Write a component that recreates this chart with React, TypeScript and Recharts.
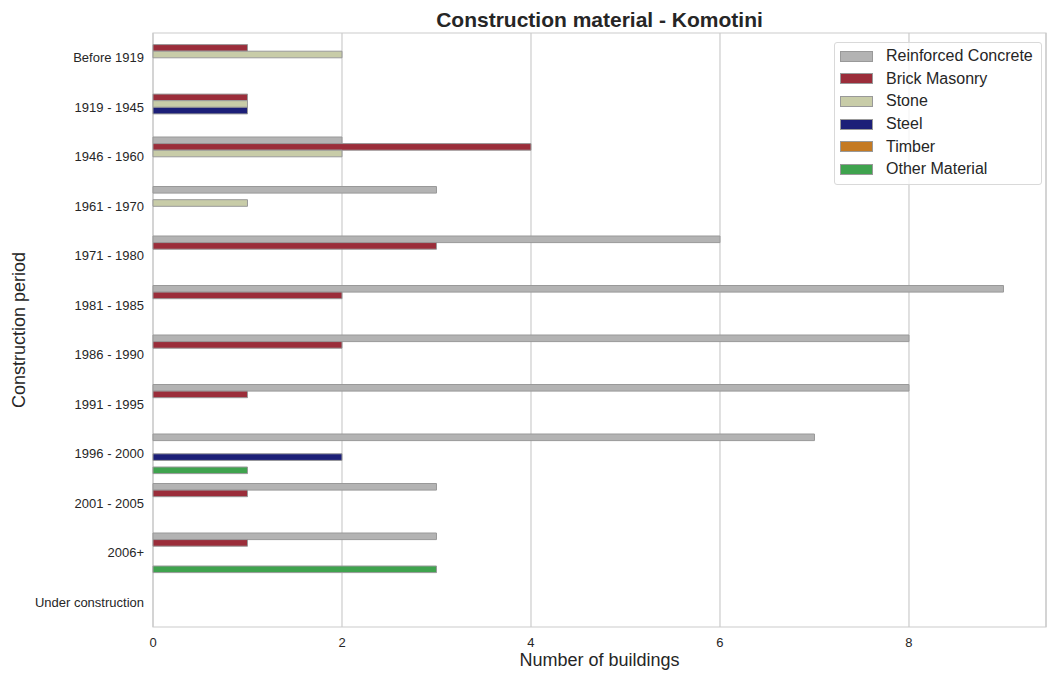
// Construction material - Komotini, horizontal grouped bars
import React from 'react';
import { BarChart, Bar, XAxis, YAxis, CartesianGrid, Legend, ReferenceArea } from 'recharts';

const FONT = '"Liberation Sans", Arial, Helvetica, sans-serif';
const TEXT = '#262626';

// Construction periods (top to bottom)
const periods = [
    'Before 1919',
    '1919 - 1945',
    '1946 - 1960',
    '1961 - 1970',
    '1971 - 1980',
    '1981 - 1985',
    '1986 - 1990',
    '1991 - 1995',
    '1996 - 2000',
    '2001 - 2005',
    '2006+',
    'Under construction',
];

// Number of buildings per material
const reinforcedConcrete = [0, 0, 2, 3, 6, 9, 8, 8, 7, 3, 3, 0];
const brickMasonry = [1, 1, 4, 0, 3, 2, 2, 1, 0, 1, 1, 0];
const stone = [2, 1, 2, 1, 0, 0, 0, 0, 0, 0, 0, 0];
const steel = [0, 1, 0, 0, 0, 0, 0, 0, 2, 0, 0, 0];
const timber = [0, 0, 0, 0, 0, 0, 0, 0, 0, 0, 0, 0];
const otherMaterial = [0, 0, 0, 0, 0, 0, 0, 0, 1, 0, 3, 0];

const xTicks = [0, 2, 4, 6, 8];
const xMax = 9.45;

const SERIES = [
    { key: 'rc', name: 'Reinforced Concrete', color: '#b3b3b3', values: reinforcedConcrete },
    { key: 'brick', name: 'Brick Masonry', color: '#9b2d3a', values: brickMasonry },
    { key: 'stone', name: 'Stone', color: '#c8cca8', values: stone },
    { key: 'steel', name: 'Steel', color: '#1c1f78', values: steel },
    { key: 'timber', name: 'Timber', color: '#c47a23', values: timber },
    { key: 'other', name: 'Other Material', color: '#3fa34e', values: otherMaterial },
];

const data = periods.map((period, i) => {
    const row: Record<string, string | number> = { period };
    SERIES.forEach((s) => {
        row[s.key] = s.values[i];
    });
    return row;
});

// Boxed legend like matplotlib's, kept in series order
const LegendBox = () => (
    <div
        style={{
            border: '1px solid #d9d9d9',
            borderRadius: 3,
            background: 'rgba(255,255,255,0.8)',
            padding: '2px 8px 3px 5px',
            fontFamily: FONT,
            fontSize: 16,
            color: TEXT,
        }}
    >
        {SERIES.map((s) => (
            <div key={s.key} style={{ display: 'flex', alignItems: 'center', height: 22.6 }}>
                <span
                    style={{
                        display: 'inline-block',
                        width: 31,
                        height: 9,
                        background: s.color,
                        border: '1px solid #999',
                        marginRight: 13,
                    }}
                />
                <span style={{ whiteSpace: 'nowrap' }}>{s.name}</span>
            </div>
        ))}
    </div>
);

export default function App() {
    return (
        <div style={{ position: 'absolute', left: 0, top: 0, width: 1047, height: 673, background: '#fff' }}>
            <div
                style={{
                    position: 'absolute',
                    left: 153,
                    width: 893,
                    top: 8,
                    textAlign: 'center',
                    fontFamily: FONT,
                    fontWeight: 'bold',
                    fontSize: 21,
                    lineHeight: 'normal',
                    color: TEXT,
                }}
            >
                Construction material - Komotini
            </div>
            <BarChart
                width={1047}
                height={673}
                data={data}
                layout="vertical"
                margin={{ top: 33, right: 1, bottom: 0, left: 0 }}
                barCategoryGap="10%"
                barGap={0}
                barSize={6.6}
            >
                <CartesianGrid horizontal={false} stroke="#cccccc" strokeWidth={1.2} />
                <XAxis
                    type="number"
                    domain={[0, xMax]}
                    ticks={xTicks}
                    height={46}
                    axisLine={false}
                    tickLine={false}
                    tickSize={0}
                    tickMargin={11}
                    tick={{ fill: TEXT, fontSize: 13, fontFamily: FONT }}
                    label={{
                        content: ({ viewBox }: any) => (
                            <text
                                x={viewBox.x + viewBox.width / 2}
                                y={666}
                                textAnchor="middle"
                                fill={TEXT}
                                fontSize={18}
                                fontFamily={FONT}
                            >
                                Number of buildings
                            </text>
                        ),
                    }}
                />
                <YAxis
                    type="category"
                    dataKey="period"
                    width={153}
                    interval={0}
                    axisLine={false}
                    tickLine={false}
                    tickSize={0}
                    tickMargin={9}
                    tick={{ fill: TEXT, fontSize: 13, fontFamily: FONT }}
                    label={{
                        content: ({ viewBox }: any) => {
                            const cy = viewBox.y + viewBox.height / 2;
                            return (
                                <text
                                    x={25}
                                    y={cy}
                                    transform={`rotate(-90 25 ${cy})`}
                                    textAnchor="middle"
                                    fill={TEXT}
                                    fontSize={18}
                                    fontFamily={FONT}
                                >
                                    Construction period
                                </text>
                            );
                        },
                    }}
                />
                {SERIES.map((s) => (
                    <Bar
                        key={s.key}
                        dataKey={s.key}
                        name={s.name}
                        fill={s.color}
                        stroke="#999999"
                        strokeWidth={1}
                        isAnimationActive={false}
                    />
                ))}
                <ReferenceArea x1={0} x2={xMax} fill="none" stroke="#cccccc" strokeWidth={1.2} />
                <Legend
                    layout="vertical"
                    align="center"
                    verticalAlign="middle"
                    content={<LegendBox />}
                    wrapperStyle={{ top: 42, left: 834, width: 'auto', height: 'auto' }}
                />
            </BarChart>
        </div>
    );
}
